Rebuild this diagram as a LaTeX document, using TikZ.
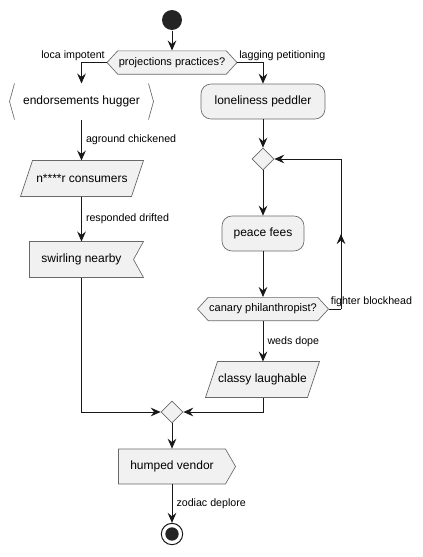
\documentclass[tikz,border=0pt]{standalone}
\usepackage{fontspec}
\setmainfont{Liberation Sans}
\usetikzlibrary{positioning, calc, arrows.meta, shapes.geometric, shapes.symbols, decorations.markings, backgrounds}
\definecolor{boxfill}{HTML}{F1F1F1}
\definecolor{boxline}{HTML}{181818}

\begin{document}
\begin{tikzpicture}[x=0.75pt, y=-0.75pt, ->, >={Stealth[length=7.5pt,width=6.5pt,inset=2.6pt]}, draw=boxline, line width=0.75pt, font=\fontsize{9}{11}\selectfont]
    \tikzstyle{shapeline}=[draw=boxline!65, line width=0.5pt, fill=boxfill, inner sep=0pt, minimum height=26.25pt]
    \tikzstyle{outline}=[-, draw=boxline!65, line width=0.5pt, fill=boxfill]
    \tikzstyle{act}=[shapeline, rounded corners=7.5pt]
    \tikzstyle{ifbox}=[shapeline, signal, signal to=west and east, signal pointer angle=95, minimum height=17.5pt, font=\fontsize{8.25}{10}\selectfont]
    \tikzstyle{plain}=[inner sep=0pt, minimum height=26.25pt]
    \tikzstyle{pointed}=[shapeline, signal, signal to=east, signal pointer angle=120]
    \tikzstyle{mergept}=[shapeline, diamond, minimum size=16.5pt, minimum height=16.5pt]
    \tikzstyle{startpt}=[circle, fill=boxline!95, minimum size=15pt, inner sep=0pt]
    \tikzstyle{endpt}=[circle, draw=boxline, line width=0.75pt, fill=white, minimum size=16pt, inner sep=0pt]
    \tikzstyle{lbl}=[font=\fontsize{8}{10}\selectfont, inner sep=1pt]

    \useasboundingbox (0,0) rectangle (422,557);

    \node[startpt] (start) at (172,20) {};
    \node[ifbox, minimum width=97.5pt] (ifproj) at (172,62.5) {projections practices?};

    % left branch
    \node[plain, minimum width=107.25pt] (endors) at (81.5,101.5) {endorsements hugger};
    \node[plain, minimum width=82.5pt] (consum) at (82,178.5) {n****r consumers};
    \node[plain, minimum width=77.25pt] (swirl) at (81.5,259.5) {swirling nearby};

    % right branch
    \node[act, minimum width=93pt] (lonely) at (263,101.5) {loneliness peddler};
    \node[mergept] (loopm) at (263,159) {};
    \node[act, minimum width=61.5pt] (peace) at (263,233.5) {peace fees};
    \node[ifbox, minimum width=98.25pt] (ifcanary) at (263,309) {canary philanthropist?};
    \node[plain, minimum width=75.75pt] (classy) at (262.5,379.5) {classy laughable};
    \coordinate (loopb) at (341,309);
    \coordinate (loopt) at (341,159);

    % join
    \node[mergept] (joinm) at (172,412) {};
    \node[pointed, minimum width=87.75pt] (humped) at (172,466.5) {humped vendor};
    \node[endpt] (stop) at (172,534) {};
    \node[circle, fill=boxline!95, minimum size=10pt, inner sep=0pt] (stopin) at (stop) {};

    % outlines behind the texts
    \begin{scope}[on background layer]
        \draw[-, draw=boxline!65, line width=0.5pt] ($(endors.north west)+(5,0)$) -- (endors.west) -- ($(endors.south west)+(5,0)$);
        \draw[-, draw=boxline!65, line width=0.5pt] ($(endors.north east)+(-5,0)$) -- (endors.east) -- ($(endors.south east)+(-5,0)$);
        \filldraw[outline] ($(consum.north west)+(6,0)$) -- ($(consum.north east)+(6,0)$) -- ($(consum.south east)+(-6,0)$) -- ($(consum.south west)+(-6,0)$) -- cycle;
        \filldraw[outline] (swirl.north west) -- ($(swirl.north east)+(10,0)$) -- (swirl.east) -- ($(swirl.south east)+(10,0)$) -- (swirl.south west) -- cycle;
        \filldraw[outline] ($(classy.north west)+(6,0)$) -- ($(classy.north east)+(6,0)$) -- ($(classy.south east)+(-6,0)$) -- ($(classy.south west)+(-6,0)$) -- cycle;
    \end{scope}

    \draw (start) -- (ifproj.north);
    \draw (ifproj.west) -| (endors.north) node[lbl, pos=0, above left] {loca impotent};
    \draw (ifproj.east) -| (lonely.north) node[lbl, pos=0, above right] {lagging petitioning};
    \draw (endors.south) -- (endors.south |- consum.north) node[lbl, midway, right=2pt] {aground chickened};
    \draw (endors.south |- consum.south) -- (swirl.north) node[lbl, midway, right=2pt] {responded drifted};
    \draw (swirl.south) |- (joinm.west);

    \draw (lonely) -- (loopm);
    \draw (loopm) -- (peace);
    \draw (peace) -- (ifcanary.north);
    \draw[-] (ifcanary.east) -- (loopb) node[lbl, pos=0, above right] {fighter blockhead};
    \draw[-, postaction=decorate, decoration={markings, mark=at position 0.5 with {\arrow{>}}}] (loopb) -- (loopt);
    \draw (loopt) -- (loopm.east);
    \draw (ifcanary.south) -- (ifcanary.south |- classy.north) node[lbl, midway, right=2pt] {weds dope};
    \draw (ifcanary.south |- classy.south) |- (joinm.east);

    \draw (joinm) -- (humped.north);
    \draw (humped.south) -- (stop) node[lbl, midway, right=2pt] {zodiac deplore};
\end{tikzpicture}
\end{document}
